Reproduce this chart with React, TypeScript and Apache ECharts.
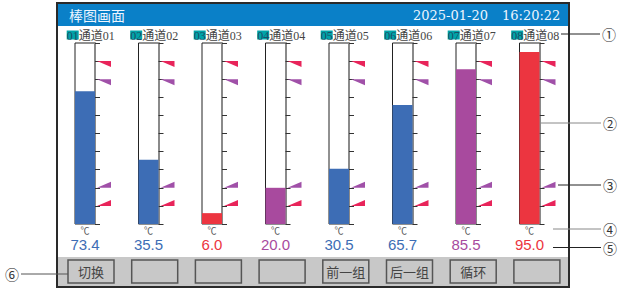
import React, { useEffect, useRef } from 'react';
import * as echarts from 'echarts';

// ---- data ----
const TITLE = '棒图画面';
const DATE_TEXT = '2025-01-20';
const TIME_TEXT = '16:20:22';
const CHANNEL_IDS = ['01', '02', '03', '04', '05', '06', '07', '08'];
const CHANNEL_NAMES = ['通道01', '通道02', '通道03', '通道04', '通道05', '通道06', '通道07', '通道08'];
const VALUES = [73.4, 35.5, 6.0, 20.0, 30.5, 65.7, 85.5, 95.0];
const UNIT = '℃';
const ALARM_LIMITS = [90, 80, 20, 10]; // HH, H, L, LL
const Y_MIN = 0;
const Y_MAX = 100;
const Y_STEP = 10;
const BUTTON_LABELS = ['切换', '', '', '', '前一组', '后一组', '循环', ''];
const CALLOUT_LABELS = ['①', '②', '③', '④', '⑤', '⑥'];

// ---- styles / layout ----
const W = 619;
const H = 289;
const GRID_LEFT0 = 75;
const GRID_STEP = 63.5;
const GRID_TOP = 43;
const GRID_W = 20;
const GRID_H = 181;
const BLUE = '#3d6db5';
const PURPLE = '#a84a9e';
const RED = '#ec3540';
const ALARM_COLORS = ['#e8245a', '#a050a8', '#a050a8', '#e8245a'];
const SERIF = '"Liberation Serif", "Noto Sans CJK SC", serif';
const CJK = '"Noto Sans CJK SC", sans-serif';

const gx = (i: number) => GRID_LEFT0 + i * GRID_STEP;

function statusColor(v: number) {
  if (v >= ALARM_LIMITS[0] || v <= ALARM_LIMITS[3]) return RED;
  if (v >= ALARM_LIMITS[1] || v <= ALARM_LIMITS[2]) return PURPLE;
  return BLUE;
}

export default function App() {
  const ref = useRef<HTMLDivElement>(null);
  useEffect(() => {
    document.body.style.margin = '0';
    const chart = echarts.init(ref.current!, null, { renderer: 'svg', width: W, height: H });

    const grids = VALUES.map((_, i) => ({
      left: gx(i), top: GRID_TOP, width: GRID_W, height: GRID_H,
      show: true, borderColor: '#222', borderWidth: 1, backgroundColor: '#fff',
    }));

    const xAxes = VALUES.map((v, i) => ({
      type: 'category', gridIndex: i, data: [CHANNEL_NAMES[i]],
      axisLine: { show: false }, axisTick: { show: false }, splitLine: { show: false },
      axisLabel: {
        show: true, margin: 0, interval: 0,
        formatter: () => `{u|${UNIT}}\n{v|${v.toFixed(1)}}`,
        rich: {
          u: { fontSize: 9, color: '#555', lineHeight: 12, fontFamily: CJK },
          v: { fontSize: 15, color: statusColor(v), lineHeight: 17, fontFamily: '"Liberation Sans", Arial, sans-serif' },
        },
      },
    }));

    const yAxes = VALUES.map((_, i) => ({
      type: 'value', gridIndex: i, position: 'right',
      min: Y_MIN, max: Y_MAX, interval: Y_STEP,
      axisLine: { show: true, lineStyle: { color: '#8a8a8a', width: 2 } },
      axisTick: { show: true, length: 5, inside: false, lineStyle: { color: '#333', width: 1 } },
      axisLabel: { show: false }, splitLine: { show: false },
    }));

    const series: any[] = [];
    VALUES.forEach((v, i) => {
      series.push({
        type: 'bar', xAxisIndex: i, yAxisIndex: i, data: [v], barWidth: '100%',
        itemStyle: { color: statusColor(v) }, silent: true,
      });
      series.push({
        type: 'custom', xAxisIndex: i, yAxisIndex: i, silent: true, z: 5,
        data: ALARM_LIMITS.map((a, k) => [0, a, k]),
        renderItem: (params: any, api: any) => {
          const cs = params.coordSys;
          const x0 = cs.x + cs.width + 2;
          const x1 = x0 + 14;
          const y = api.coord([0, api.value(1)])[1];
          const k = api.value(2);
          const pts = k < 2 ? [[x0, y], [x1, y], [x1, y + 6]] : [[x0, y], [x1, y], [x1, y - 6]];
          return { type: 'polygon', shape: { points: pts }, style: { fill: ALARM_COLORS[k] } };
        },
      });
    });

    const graphic: any[] = [];
    // frame
    graphic.push({ type: 'rect', z: -10, shape: { x: 57, y: 3, width: 512, height: 284 }, style: { fill: '#fff', stroke: '#2a2a2a', lineWidth: 2 } });
    graphic.push({ type: 'rect', z: -9, shape: { x: 58, y: 4, width: 510, height: 22 }, style: { fill: '#0a80c8' } });
    graphic.push({ type: 'rect', z: -9, shape: { x: 58, y: 257, width: 510, height: 29 }, style: { fill: '#c8c8c8' } });
    graphic.push({ type: 'text', x: 69, y: 15, style: { text: TITLE, fill: '#eef6ff', font: `14px ${CJK}`, verticalAlign: 'middle' } });
    graphic.push({ type: 'text', x: 413, y: 15, style: { text: DATE_TEXT, fill: '#eef6ff', font: `13px "DejaVu Serif", serif`, verticalAlign: 'middle' } });
    graphic.push({ type: 'text', x: 502, y: 15, style: { text: TIME_TEXT, fill: '#eef6ff', font: `13px "DejaVu Serif", serif`, verticalAlign: 'middle' } });
    // channel labels
    CHANNEL_IDS.forEach((id, i) => {
      const lx = gx(i) - 8.3;
      graphic.push({ type: 'rect', shape: { x: lx, y: 30.5, width: 12, height: 9 }, style: { fill: '#00a3a8' } });
      graphic.push({ type: 'text', x: lx, y: 35.5, style: { text: id, fill: '#1d4d66', font: `12px ${SERIF}`, verticalAlign: 'middle' } });
      graphic.push({ type: 'text', x: lx + 12, y: 35.5, style: { text: CHANNEL_NAMES[i], fill: '#444', font: `12px ${SERIF}`, verticalAlign: 'middle' } });
    });
    // buttons
    BUTTON_LABELS.forEach((b, i) => {
      const bx = 68 + i * 63.7;
      graphic.push({ type: 'rect', shape: { x: bx, y: 260, width: 46, height: 23 }, style: { fill: '#c8c8c8', stroke: '#555', lineWidth: 1.5 } });
      if (b) graphic.push({ type: 'text', x: bx + 23, y: 271.5, style: { text: b, fill: '#444', font: `13px ${CJK}`, align: 'center', verticalAlign: 'middle' } });
    });
    // callouts
    const callouts = [
      { y: 34, x1: 561, x2: 600, c: '#222', cx: 609 },
      { y: 123, x1: 540, x2: 601, c: '#888', cx: 610 },
      { y: 185, x1: 558, x2: 601, c: '#222', cx: 610 },
      { y: 229, x1: 553, x2: 601, c: '#888', cx: 610 },
      { y: 247.5, x1: 553, x2: 601, c: '#222', cx: 610 },
      { y: 274, x1: 21, x2: 68, c: '#555', cx: 12 },
    ];
    callouts.forEach((co, i) => {
      graphic.push({ type: 'line', z: 10, shape: { x1: co.x1, y1: co.y, x2: co.x2, y2: co.y }, style: { stroke: co.c, lineWidth: 1 } });
      graphic.push({ type: 'text', z: 10, x: co.cx, y: co.y, style: { text: CALLOUT_LABELS[i], fill: '#333', font: `14px ${CJK}`, lineHeight: 14, align: 'center', verticalAlign: 'middle' } });
    });

    chart.setOption({
      animation: false,
      backgroundColor: '#fff',
      grid: grids,
      xAxis: xAxes,
      yAxis: yAxes,
      series,
      graphic,
    });
    return () => chart.dispose();
  }, []);
  return <div ref={ref} style={{ position: 'absolute', left: 0, top: 0, width: W, height: H, background: '#fff' }} />;
}
